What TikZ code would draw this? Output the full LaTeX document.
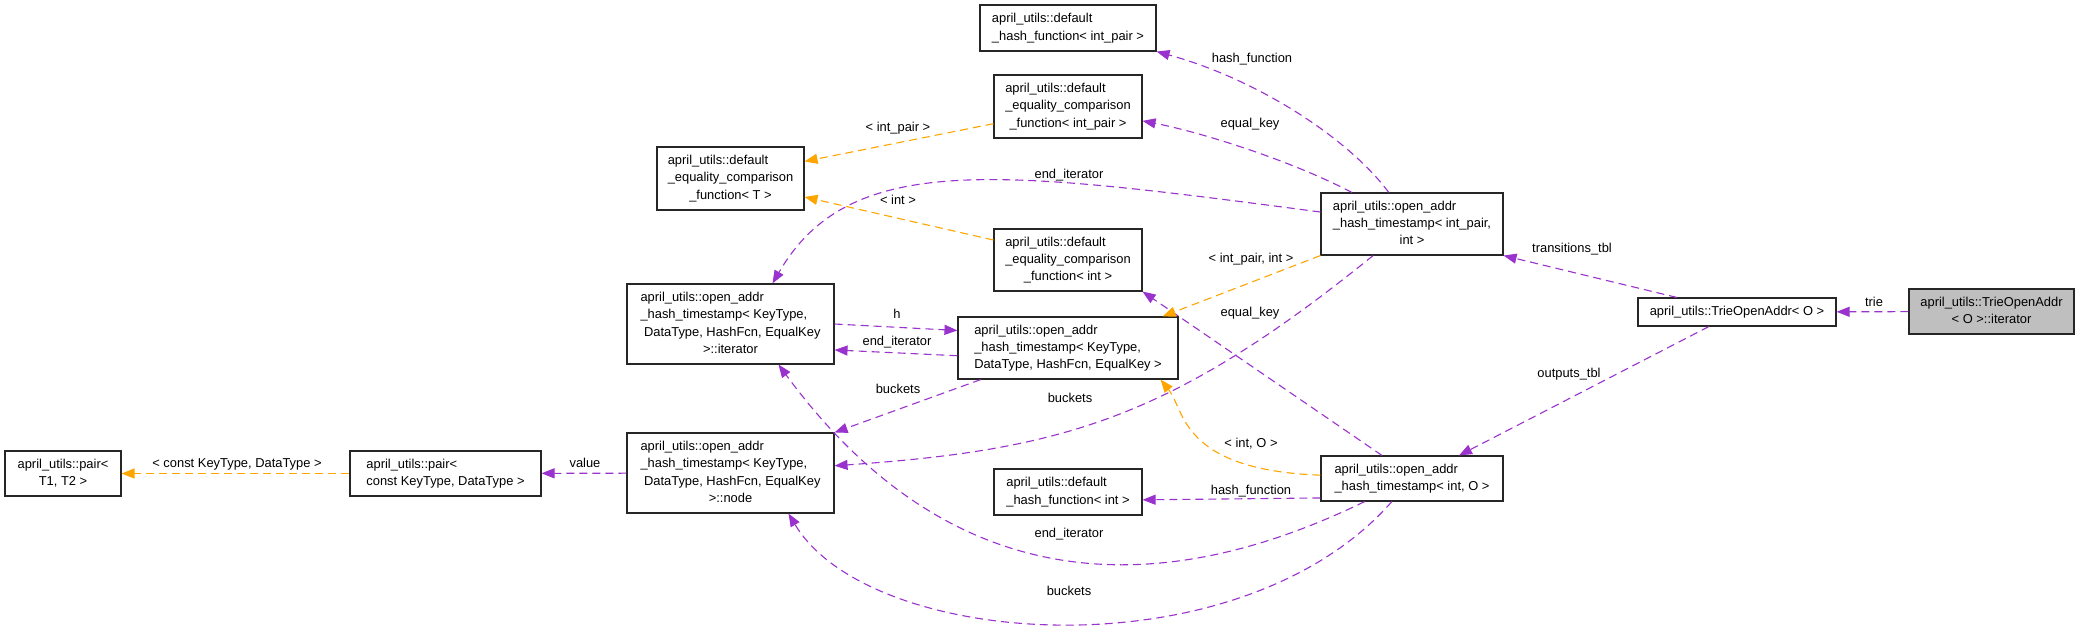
\documentclass[tikz,border=0pt]{standalone}
\usepackage{fontspec}
\setmainfont{Liberation Sans}
\usetikzlibrary{arrows.meta}
\definecolor{DoxyPurple}{HTML}{9A32CD}
\definecolor{DoxyOrange}{HTML}{FFA500}
\definecolor{DoxyGray}{HTML}{BFBFBF}
\newcommand{\classtext}[1]{\begin{tabular}{@{}l@{}}#1\end{tabular}}
\newcommand{\centred}[1]{\multicolumn{1}{@{}c@{}}{#1}}

\begin{document}
\begin{tikzpicture}[
    x=1pt, y=-1pt,
    cls/.style={rectangle, draw=black!85, line width=1.1pt, fill=white, inner sep=0pt,
                font={\fontsize{12.9}{17.3}\selectfont}},
    boxsize/.style 2 args={minimum width=#1pt, minimum height=#2pt},
    lbl/.style={inner sep=0pt, text height=9pt, text depth=2.5pt,
                font={\fontsize{12.9}{17.3}\selectfont}},
    usedby/.style={draw=DoxyPurple, line width=1.1pt, dash pattern=on 8pt off 5pt,
                   -{Triangle[length=13pt, width=10pt]}},
    inst/.style={draw=DoxyOrange, line width=1.1pt, dash pattern=on 8pt off 5pt,
                 -{Triangle[length=13pt, width=10pt]}}
]
\path[use as bounding box, fill=white] (0,0) rectangle (2080,635);

% classes
\node[cls, boxsize={116}{45}] (pairT) at (63,473.5) {\classtext{april\_utils::pair<\\\centred{T1, T2 >}}};
\node[cls, boxsize={191}{45}] (pairKD) at (445.5,473.5) {\classtext{april\_utils::pair<\\\centred{const KeyType, DataType >}}};
\node[cls, boxsize={207}{80}] (nodeN) at (730.5,473) {\classtext{april\_utils::open\_addr\\\_hash\_timestamp< KeyType,\\\ DataType, HashFcn, EqualKey\\\centred{>::node}}};
\node[cls, boxsize={207}{80}] (iter) at (730.5,324) {\classtext{april\_utils::open\_addr\\\_hash\_timestamp< KeyType,\\\ DataType, HashFcn, EqualKey\\\centred{>::iterator}}};
\node[cls, boxsize={147}{63}] (eqT) at (730.5,178.5) {\classtext{april\_utils::default\\\_equality\_comparison\\\centred{\_function< T >}}};
\node[cls, boxsize={220}{62}] (hashKD) at (1068,348) {\classtext{april\_utils::open\_addr\\\_hash\_timestamp< KeyType,\\\centred{DataType, HashFcn, EqualKey >}}};
\node[cls, boxsize={176}{46}] (hashIP) at (1068,28) {\classtext{april\_utils::default\\\centred{\_hash\_function< int\_pair >}}};
\node[cls, boxsize={148}{63}] (eqIP) at (1068,106.5) {\classtext{april\_utils::default\\\_equality\_comparison\\\centred{\_function< int\_pair >}}};
\node[cls, boxsize={148}{62}] (eqI) at (1068,260) {\classtext{april\_utils::default\\\_equality\_comparison\\\centred{\_function< int >}}};
\node[cls, boxsize={148}{46}] (hashI) at (1068,492) {\classtext{april\_utils::default\\\centred{\_hash\_function< int >}}};
\node[cls, boxsize={182}{62}] (tsIP) at (1412,224) {\classtext{april\_utils::open\_addr\\\_hash\_timestamp< int\_pair,\\\centred{int >}}};
\node[cls, boxsize={182}{45}] (tsIO) at (1412,478.5) {\classtext{april\_utils::open\_addr\\\centred{\_hash\_timestamp< int, O >}}};
\node[cls, boxsize={198}{28}] (trie) at (1737,312) {april\_utils::TrieOpenAddr< O >};
\node[cls, boxsize={165}{45}, fill=DoxyGray] (trieIt) at (1991.5,311.5) {\classtext{april\_utils::TrieOpenAddr\\\centred{< O >::iterator}}};

% members
\draw[usedby] (trieIt) -- (trie) node[lbl] at (1874,303) {trie};
\draw[usedby] (trie) -- (tsIP.south east) node[lbl] at (1572,249) {transitions\_tbl};
\draw[usedby] (trie) -- ([xshift=47pt]tsIO.north) node[lbl] at (1569,374) {outputs\_tbl};
\draw[usedby] (tsIP) .. controls (1350,140) and (1260,80) .. (hashIP.south east) node[lbl] at (1252,59) {hash\_function};
\draw[usedby] (tsIP) .. controls (1290,160) and (1200,132) .. (eqIP) node[lbl] at (1250,124) {equal\_key};
\draw[usedby] (tsIP) .. controls (1000,170) and (850,150) .. ([xshift=42pt]iter.north) node[lbl] at (1069,175) {end\_iterator};
\draw[usedby] (tsIP) .. controls (1170,420) and (1060,450) .. (nodeN) node[lbl] at (1070,399) {buckets};
\draw[usedby] ([xshift=-30pt]tsIO.north) -- (eqI.south east) node[lbl] at (1250,313) {equal\_key};
\draw[usedby] (tsIO.192) -- (hashI.-6) node[lbl] at (1251,491) {hash\_function};
\draw[usedby] (tsIO) .. controls (1080,640) and (900,530) .. ([xshift=48pt]iter.south) node[lbl] at (1069,534) {end\_iterator};
\draw[usedby] (tsIO) .. controls (1240,675) and (870,650) .. ([xshift=58pt]nodeN.south) node[lbl] at (1069,592) {buckets};
\draw[usedby] (iter.east) -- (hashKD.171) node[lbl] at (897,315) {h};
\draw[usedby] (hashKD.184) -- (iter.-14) node[lbl] at (897,342) {end\_iterator};
\draw[usedby] (hashKD) -- (nodeN.north east) node[lbl] at (898,390) {buckets};
\draw[usedby] (nodeN) -- (pairKD) node[lbl] at (585,464) {value};

% template instances
\draw[inst] (pairKD) -- (pairT) node[lbl] at (237,464) {< const KeyType, DataType >};
\draw[inst] (eqIP.193) -- (eqT.13) node[lbl] at (898,128) {< int\_pair >};
\draw[inst] (eqI.165) -- (eqT.-14) node[lbl] at (898,201) {< int >};
\draw[inst] (tsIP.south west) -- ([xshift=-16pt]hashKD.north east) node[lbl] at (1251,259) {< int\_pair, int >};
\draw[inst] (tsIO) .. controls (1180,470) and (1185,410) .. ([xshift=-18pt]hashKD.south east) node[lbl] at (1251,444) {< int, O >};

\end{tikzpicture}
\end{document}
